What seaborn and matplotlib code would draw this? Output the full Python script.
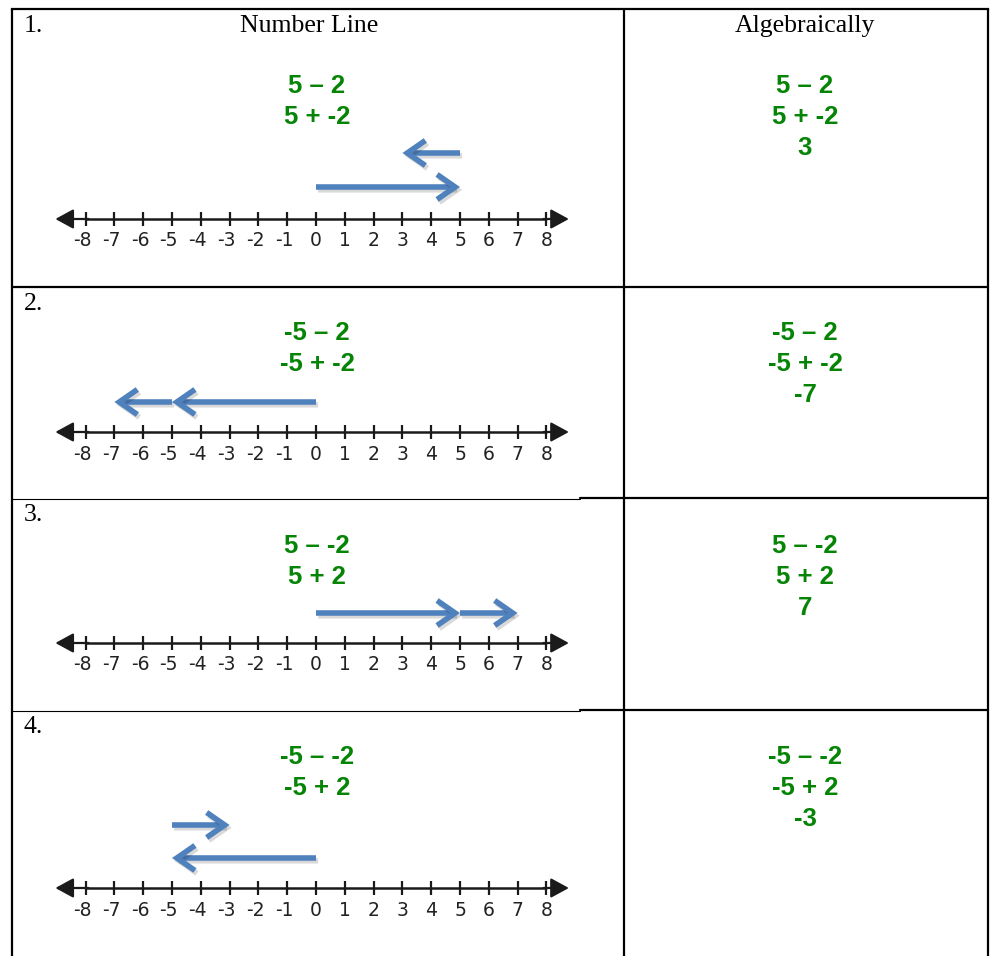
import matplotlib
matplotlib.use("Agg")
import matplotlib.pyplot as plt
import seaborn as sns
import pandas as pd
from matplotlib import patheffects as pe

# ---------------- data ----------------
tick_values = list(range(-8, 9))
tick_labels = [str(v) for v in tick_values]

headers = ["Number Line", "Algebraically"]
row_labels = ["1.", "2.", "3.", "4."]
expr_first = ["5 \u2013 2", "-5 \u2013 2", "5 \u2013 -2", "-5 \u2013 -2"]
expr_second = ["5 + -2", "-5 + -2", "5 + 2", "-5 + 2"]
answers = ["3", "-7", "7", "-3"]

# arrows on the number line: first step (from 0) and second step
step1_start = [0, 0, 0, 0]
step1_end = [5, -5, 5, -5]
step2_start = [5, -5, 5, -5]
step2_end = [3, -7, 7, -3]

# ---------------- layout (pixels) ----------------
W, H = 995, 956
X_LEFT, X_MID, X_RIGHT = 12, 624, 988
ROW_TOPS = [9, 287, 498, 710]
ROW_BOTTOMS = [287, 498, 710, 960]
LINE_Y = [219, 432, 643, 888]
STEP1_Y = [187, 402, 613, 858]
STEP2_Y = [153, 402, 613, 825]
EXPR_Y = [86, 333, 546, 757]
LINE_GAP = 31
ZERO_PX, UNIT_PX = 316, 28.8
NL_LEFT, NL_RIGHT = 40, 600

sns.set_theme(style="white")
plt.rcParams['font.family'] = ['DejaVu Sans']

fig = plt.figure(figsize=(W / 100, H / 100), dpi=100)
bg = fig.add_axes([0, 0, 1, 1])
bg.set_xlim(0, W)
bg.set_ylim(H, 0)
bg.axis("off")

# table lines
lw_tab = 1.6
bg.plot([X_LEFT, X_RIGHT], [ROW_TOPS[0], ROW_TOPS[0]], color="black", lw=lw_tab, solid_capstyle="projecting")
for x in (X_LEFT, X_MID, X_RIGHT):
    bg.plot([x, x], [ROW_TOPS[0], H + 5], color="black", lw=lw_tab)
for i, yt in enumerate(ROW_TOPS[1:]):
    if i == 0:
        bg.plot([X_LEFT, X_RIGHT], [yt, yt], color="black", lw=lw_tab)
    else:
        bg.plot([X_LEFT, 580], [yt + 0.6, yt + 0.6], color="black", lw=0.8)
        bg.plot([580, X_RIGHT], [yt, yt], color="black", lw=lw_tab)

serif = ['Liberation Serif', 'DejaVu Serif']
sans = ['Liberation Sans', 'DejaVu Sans']
green = "#068406"

bg.text(309, 26, headers[0], ha="center", va="center", fontsize=18.5, family=serif, color="black")
bg.text(805, 26, headers[1], ha="center", va="center", fontsize=18.5, family=serif, color="black")

for r in range(4):
    bg.text(24, ROW_TOPS[r] + 17, row_labels[r], ha="left", va="center", fontsize=18.5, family=serif, color="black")
    y0 = EXPR_Y[r]
    for cx in (317, 805):
        bg.text(cx, y0, expr_first[r], ha="center", va="center", fontsize=18.5, fontweight="bold", family=sans, color=green)
        bg.text(cx, y0 + LINE_GAP, expr_second[r], ha="center", va="center", fontsize=18.5, fontweight="bold", family=sans, color=green)
    bg.text(805, y0 + 2 * LINE_GAP, answers[r], ha="center", va="center", fontsize=18.5, fontweight="bold", family=sans, color=green)

# number lines
xlo = (NL_LEFT - ZERO_PX) / UNIT_PX
xhi = (NL_RIGHT - ZERO_PX) / UNIT_PX
blue = "#4f81bd"
shadow = [pe.SimpleLineShadow(offset=(1.5, -2.0), shadow_color="black", alpha=0.15), pe.Normal()]
digit_half = 0.21  # half a digit width, in number-line units

for r in range(4):
    top, bot = ROW_TOPS[r], min(ROW_BOTTOMS[r], H)
    ax = fig.add_axes([NL_LEFT / W, 1 - bot / H, (NL_RIGHT - NL_LEFT) / W, (bot - top) / H])
    ax.set_xlim(xlo, xhi)
    ax.set_ylim(bot, top)
    ax.patch.set_alpha(0)
    ax.axis("off")

    ly = LINE_Y[r]
    df = pd.DataFrame({"v": tick_values, "y": [ly] * len(tick_values)})
    sns.lineplot(data=df, x="v", y="y", ax=ax, color="#1a1a1a", lw=1.8, estimator=None, sort=True)
    ax.annotate("", xy=(-9.05, ly), xytext=(-7.9, ly),
                arrowprops=dict(arrowstyle="-|>,head_length=0.55,head_width=0.3", color="#1a1a1a",
                                lw=1.6, shrinkA=0, shrinkB=0, mutation_scale=20))
    ax.annotate("", xy=(8.78, ly), xytext=(7.9, ly),
                arrowprops=dict(arrowstyle="-|>,head_length=0.55,head_width=0.3", color="#1a1a1a",
                                lw=1.6, shrinkA=0, shrinkB=0, mutation_scale=20))
    ax.vlines(tick_values, ly - 7, ly + 7, color="#1a1a1a", lw=1.6)
    for v, lab in zip(tick_values, tick_labels):
        ax.text(v + digit_half, ly + 22, lab, ha="right", va="center", fontsize=13.5, color="#222222",
                family=['DejaVu Sans'])

    # movement arrows
    for s, e, y in ((step1_start[r], step1_end[r], STEP1_Y[r]), (step2_start[r], step2_end[r], STEP2_Y[r])):
        ax.annotate("", xy=(e, y), xytext=(s, y),
                    arrowprops=dict(arrowstyle="->,head_length=0.65,head_width=0.45", color=blue,
                                    lw=4.0, shrinkA=0, shrinkB=0, mutation_scale=20,
                                    capstyle="butt", joinstyle="miter",
                                    path_effects=shadow))

fig.savefig("out.png", dpi=100, facecolor="white")
